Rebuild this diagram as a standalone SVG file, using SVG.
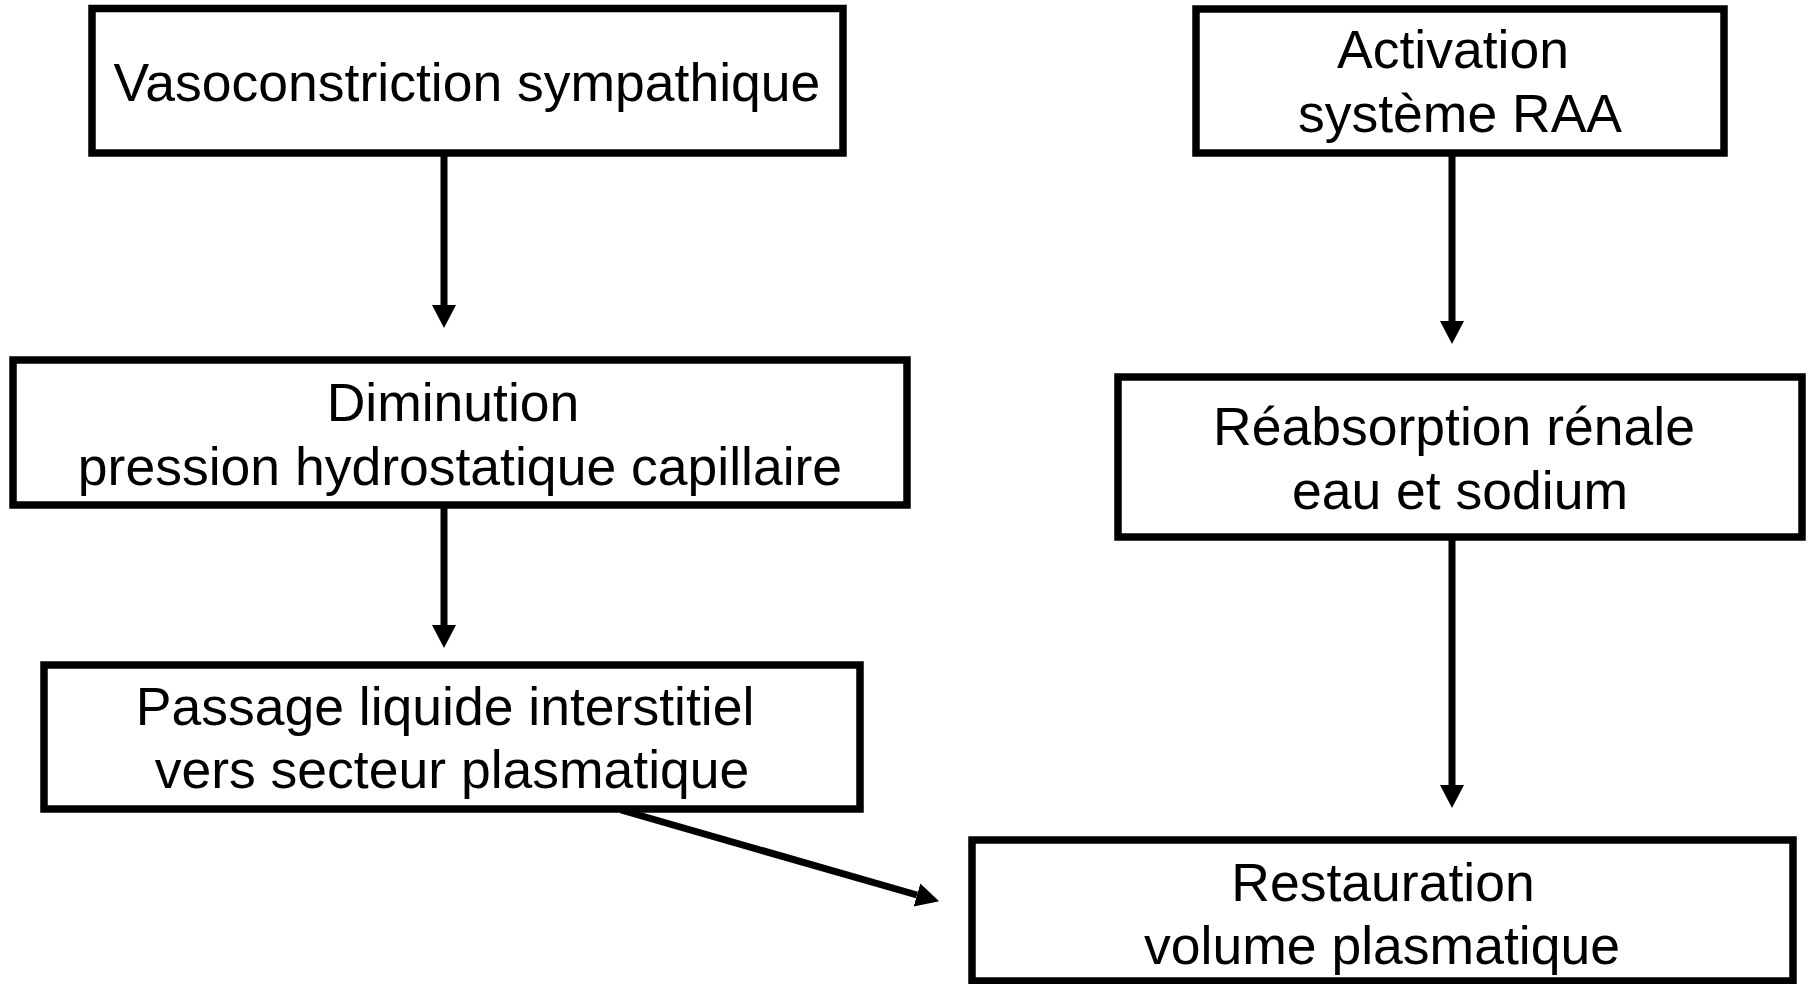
<svg xmlns="http://www.w3.org/2000/svg" width="1815" height="984" viewBox="0 0 1815 984">
<style>
.box{fill:#fff;stroke:#000;stroke-width:7.5}
.t{font-family:"Liberation Sans",Arial,sans-serif;font-size:53.5px;fill:#000;text-anchor:middle}
.c{stroke:#000;stroke-width:7;fill:none;marker-end:url(#ah)}
</style>
<defs>
<marker id="ah" markerUnits="userSpaceOnUse" markerWidth="24" markerHeight="26" viewBox="0 -13 24 26" refX="0" refY="0" orient="auto">
<path d="M0,-12 L23,0 L0,12 z" fill="#000"/>
</marker>
</defs>
<rect width="1815" height="984" fill="#fff"/>
<g id="connectors">
<line class="c" x1="444" y1="153" x2="444" y2="305"/>
<line class="c" x1="444" y1="505" x2="444" y2="625"/>
<line class="c" x1="1452" y1="153" x2="1452" y2="321"/>
<line class="c" x1="1452" y1="537" x2="1452" y2="785"/>
<line class="c" x1="621" y1="810" x2="917" y2="895"/>
</g>
<g id="n1">
<rect class="box" x="92" y="8.5" width="751" height="144.5"/>
<text class="t" x="467" y="101">Vasoconstriction sympathique</text>
</g>
<g id="n2">
<rect class="box" x="13" y="360" width="894" height="145"/>
<text class="t" x="453" y="421">Diminution</text>
<text class="t" x="460" y="485">pression hydrostatique capillaire</text>
</g>
<g id="n3">
<rect class="box" x="44" y="665" width="816" height="144"/>
<text class="t" x="445" y="725">Passage liquide interstitiel</text>
<text class="t" x="452" y="788">vers secteur plasmatique</text>
</g>
<g id="n4">
<rect class="box" x="1196" y="9" width="528" height="144"/>
<text class="t" x="1453" y="68">Activation</text>
<text class="t" x="1460" y="132">système RAA</text>
</g>
<g id="n5">
<rect class="box" x="1118" y="377" width="684" height="160"/>
<text class="t" x="1454" y="445">Réabsorption rénale</text>
<text class="t" x="1460" y="509">eau et sodium</text>
</g>
<g id="n6">
<rect class="box" x="972" y="840" width="821" height="141"/>
<text class="t" x="1383" y="901">Restauration</text>
<text class="t" x="1382" y="964">volume plasmatique</text>
</g>
</svg>
